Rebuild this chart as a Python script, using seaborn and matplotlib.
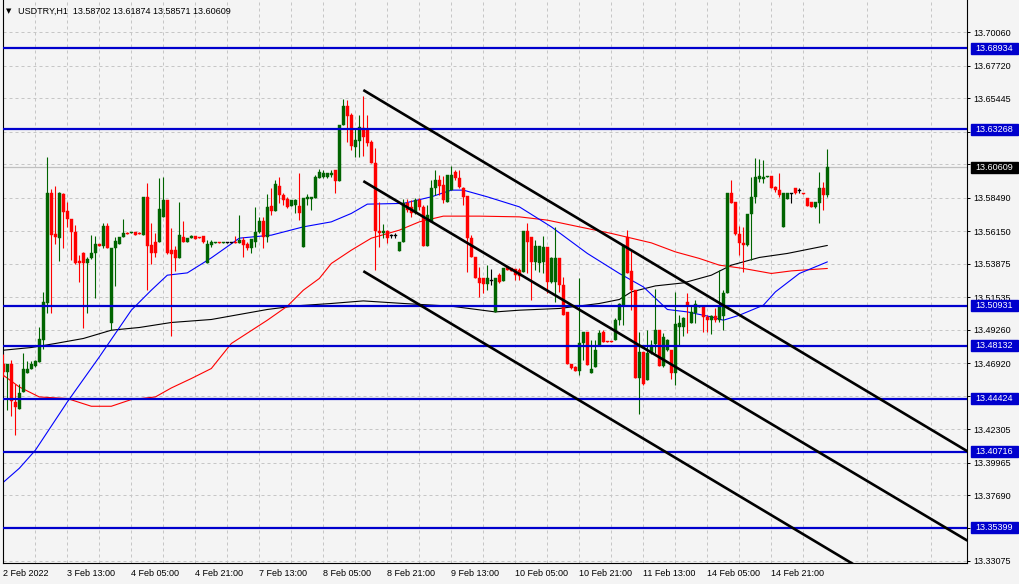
"""
USDTRY H1 candlestick chart (MetaTrader style) with three moving averages,
horizontal support/resistance levels and a descending channel.
"""

import matplotlib
matplotlib.use("Agg")
import matplotlib.pyplot as plt
import matplotlib.transforms as mtransforms
from matplotlib.patches import Rectangle
import numpy as np
import pandas as pd
import seaborn as sns

# ---------------------------------------------------------------- data
SYMBOL = "USDTRY,H1"

opens = [
    13.4689, 13.4630, 13.4684, 13.4420, 13.4371, 13.4490, 13.4623, 13.4649, 13.4672, 13.4700,  # 0
    13.4857, 13.5109, 13.5883, 13.5594, 13.5566, 13.5874, 13.5755, 13.5697, 13.5610, 13.5405,  # 10
    13.5459, 13.5389, 13.5424, 13.5459, 13.5522, 13.5510, 13.5650, 13.4969, 13.5498, 13.5522,  # 20
    13.5571, 13.5603, 13.5599, 13.5608, 13.5601, 13.5587, 13.5855, 13.5517, 13.5540, 13.5540,  # 30
    13.5715, 13.5832, 13.5482, 13.5482, 13.5424, 13.5571, 13.5540, 13.5564, 13.5580, 13.5571,  # 40
    13.5580, 13.5393, 13.5517, 13.5529, 13.5540, 13.5533, 13.5538, 13.5538, 13.5540, 13.5533,  # 50
    13.5552, 13.5524, 13.5494, 13.5540, 13.5610, 13.5687, 13.5575, 13.5790, 13.5757, 13.5932,  # 60
    13.5867, 13.5839, 13.5790, 13.5797, 13.5790, 13.5505, 13.5837, 13.5837, 13.5844, 13.5984,  # 70
    13.5991, 13.5995, 13.6007, 13.6042, 13.5967, 13.6357, 13.6490, 13.6427, 13.6205, 13.6247,  # 80
    13.6334, 13.6327, 13.6240, 13.6093, 13.5615, 13.5603, 13.5615, 13.5582, 13.5582, 13.5477,  # 90
    13.5540, 13.5809, 13.5785, 13.5739, 13.5832, 13.5785, 13.5510, 13.5680, 13.5914, 13.5972,  # 100
    13.5937, 13.5820, 13.5902, 13.6030, 13.5984, 13.5918, 13.5860, 13.5564, 13.5435, 13.5284,  # 110
    13.5284, 13.5244, 13.5272, 13.5050, 13.5307, 13.5267, 13.5361, 13.5354, 13.5349, 13.5342,  # 120
    13.5330, 13.5617, 13.5571, 13.5400, 13.5389, 13.5400, 13.5501, 13.5260, 13.5260, 13.5424,  # 130
    13.5237, 13.5050, 13.4684, 13.4665, 13.4637, 13.4833, 13.4910, 13.4623, 13.4665, 13.4812,  # 140
    13.4910, 13.4847, 13.4847, 13.4852, 13.4992, 13.5097, 13.5575, 13.5335, 13.5202, 13.4591,  # 150
    13.4770, 13.4577, 13.4763, 13.4824, 13.4922, 13.4675, 13.4782, 13.4787, 13.4626, 13.4941,  # 160
    13.4945, 13.5116, 13.4969, 13.5039, 13.5088, 13.5092, 13.5015, 13.4992, 13.5022, 13.4992,  # 170
    13.5022, 13.5179, 13.5879, 13.5820, 13.5592, 13.5529, 13.5517, 13.5734, 13.5855, 13.5977,  # 180
    13.5977, 13.5995, 13.6000, 13.5925, 13.5902, 13.5641, 13.5837, 13.5879, 13.5914, 13.5902,  # 190
    13.5883, 13.5844, 13.5820, 13.5785, 13.5809, 13.5914, 13.58702,                            # 200
]

highs = [
    13.4759, 13.4684, 13.4712, 13.4549, 13.4549, 13.4766, 13.4705, 13.4705, 13.4712, 13.4945,
    13.5190, 13.6135, 13.5907, 13.5930, 13.5890, 13.5879, 13.5820, 13.5697, 13.5657, 13.5447,
    13.5468, 13.5431, 13.5587, 13.5580, 13.5524, 13.5669, 13.5673, 13.5498, 13.5571, 13.5571,
    13.5699, 13.5608, 13.5610, 13.5608, 13.5608, 13.5855, 13.5953, 13.5673, 13.5599, 13.5988,
    13.5995, 13.5832, 13.5634, 13.5510, 13.5816, 13.5685, 13.5564, 13.5587, 13.5580, 13.5571,
    13.5580, 13.5552, 13.5552, 13.5540, 13.5540, 13.5540, 13.5541, 13.5541, 13.5582, 13.5727,
    13.5575, 13.5540, 13.5557, 13.5785, 13.5715, 13.5715, 13.5872, 13.5918, 13.5972, 13.5995,
    13.5879, 13.5855, 13.5832, 13.5837, 13.6019, 13.5844, 13.5874, 13.5855, 13.6007, 13.6049,
    13.6042, 13.6024, 13.6042, 13.6042, 13.6357, 13.6537, 13.6532, 13.6439, 13.6327, 13.6427,
    13.6560, 13.6427, 13.6252, 13.6194, 13.5820, 13.5662, 13.5622, 13.5594, 13.5599, 13.5540,
    13.5837, 13.5837, 13.5832, 13.5844, 13.5844, 13.5797, 13.5797, 13.5972, 13.6042, 13.6007,
    13.6000, 13.6007, 13.6070, 13.6042, 13.6042, 13.5925, 13.5860, 13.5587, 13.5435, 13.5365,
    13.5284, 13.5377, 13.5347, 13.5284, 13.5319, 13.5354, 13.5365, 13.5354, 13.5349, 13.5354,
    13.5617, 13.5669, 13.5571, 13.5552, 13.5510, 13.5580, 13.5501, 13.5435, 13.5645, 13.5424,
    13.5291, 13.5050, 13.4684, 13.4670, 13.5284, 13.4910, 13.4910, 13.4852, 13.4852, 13.4922,
    13.4922, 13.4847, 13.4847, 13.5006, 13.5109, 13.5517, 13.5622, 13.5477, 13.5202, 13.4910,
    13.4770, 13.4922, 13.4852, 13.5207, 13.4922, 13.4899, 13.4864, 13.4787, 13.5186, 13.5027,
    13.5015, 13.5179, 13.5097, 13.5132, 13.5097, 13.5092, 13.5027, 13.5027, 13.5074, 13.5342,
    13.5202, 13.5879, 13.5972, 13.5820, 13.5650, 13.5645, 13.5734, 13.5991, 13.6124, 13.6117,
    13.6112, 13.6003, 13.6000, 13.5930, 13.6023, 13.5883, 13.5883, 13.5879, 13.5918, 13.5914,
    13.5883, 13.5844, 13.5820, 13.5820, 13.6030, 13.5960, 13.61874,
]

lows = [
    13.4595, 13.4362, 13.4322, 13.4192, 13.4371, 13.4490, 13.4623, 13.4649, 13.4665, 13.4700,
    13.4789, 13.5043, 13.5043, 13.5524, 13.5407, 13.5498, 13.5641, 13.5412, 13.5382, 13.5260,
    13.4938, 13.5039, 13.5419, 13.5144, 13.5510, 13.5494, 13.5498, 13.4922, 13.5230, 13.5522,
    13.5571, 13.5594, 13.5599, 13.5587, 13.5594, 13.5587, 13.5202, 13.5382, 13.5435, 13.5540,
    13.5715, 13.5452, 13.4882, 13.5337, 13.5424, 13.5540, 13.5540, 13.5564, 13.5557, 13.5566,
    13.5529, 13.5393, 13.5505, 13.5529, 13.5533, 13.5533, 13.5531, 13.5531, 13.5529, 13.5533,
    13.5435, 13.5482, 13.5463, 13.5505, 13.5603, 13.5498, 13.5540, 13.5727, 13.5757, 13.5813,
    13.5797, 13.5774, 13.5790, 13.5743, 13.5692, 13.5505, 13.5797, 13.5762, 13.5844, 13.5984,
    13.5984, 13.5988, 13.5995, 13.5883, 13.5967, 13.6357, 13.6240, 13.6182, 13.6135, 13.6135,
    13.6140, 13.6210, 13.6089, 13.5342, 13.5505, 13.5564, 13.5533, 13.5564, 13.5564, 13.5477,
    13.5540, 13.5750, 13.5715, 13.5734, 13.5762, 13.5510, 13.5510, 13.5680, 13.5867, 13.5867,
    13.5809, 13.5820, 13.5902, 13.5972, 13.5914, 13.5797, 13.5330, 13.5435, 13.5284, 13.5155,
    13.5179, 13.5202, 13.5237, 13.5050, 13.5249, 13.5267, 13.5342, 13.5337, 13.5272, 13.5272,
    13.5330, 13.5323, 13.5132, 13.5342, 13.5330, 13.5319, 13.5179, 13.5249, 13.5120, 13.5190,
    13.5027, 13.4684, 13.4654, 13.4637, 13.4607, 13.4712, 13.4677, 13.4623, 13.4665, 13.4812,
    13.4840, 13.4840, 13.4840, 13.4852, 13.4957, 13.4957, 13.5319, 13.5062, 13.4591, 13.4334,
    13.4537, 13.4577, 13.4759, 13.4761, 13.4670, 13.4665, 13.4777, 13.4584, 13.4537, 13.4817,
    13.4880, 13.4899, 13.4969, 13.4969, 13.5085, 13.4906, 13.4910, 13.4894, 13.4980, 13.4980,
    13.4922, 13.5179, 13.5809, 13.5587, 13.5447, 13.5330, 13.5510, 13.5412, 13.5809, 13.5960,
    13.5953, 13.5993, 13.5914, 13.5890, 13.5855, 13.5641, 13.5837, 13.5813, 13.5874, 13.5879,
    13.5874, 13.5790, 13.5785, 13.5774, 13.5669, 13.5762, 13.58571,
]

closes = [
    13.4630, 13.4684, 13.4427, 13.4385, 13.4486, 13.4654, 13.4654, 13.4686, 13.4705, 13.4859,
    13.5118, 13.5883, 13.5587, 13.5571, 13.5883, 13.5750, 13.5697, 13.5610, 13.5389, 13.5393,
    13.5389, 13.5419, 13.5459, 13.5522, 13.5510, 13.5650, 13.5498, 13.5498, 13.5545, 13.5571,
    13.5599, 13.5599, 13.5608, 13.5587, 13.5597, 13.5855, 13.5512, 13.5463, 13.5463, 13.5767,
    13.5832, 13.5463, 13.5454, 13.5424, 13.5587, 13.5540, 13.5564, 13.5580, 13.5557, 13.5566,
    13.5540, 13.5522, 13.5540, 13.5540, 13.5533, 13.5540, 13.5538, 13.5538, 13.5533, 13.5552,
    13.5517, 13.5494, 13.5557, 13.5610, 13.5687, 13.5575, 13.5781, 13.5757, 13.5944, 13.5867,
    13.5832, 13.5785, 13.5832, 13.5832, 13.5739, 13.5844, 13.5851, 13.5851, 13.5991, 13.6030,
    13.6019, 13.6019, 13.6019, 13.5967, 13.6357, 13.6490, 13.6420, 13.6210, 13.6252, 13.6341,
    13.6275, 13.6233, 13.6089, 13.5615, 13.5603, 13.5615, 13.5564, 13.5582, 13.5582, 13.5540,
    13.5809, 13.5762, 13.5739, 13.5832, 13.5785, 13.5510, 13.5727, 13.5914, 13.5972, 13.5930,
    13.5832, 13.6007, 13.6007, 13.5984, 13.5921, 13.5855, 13.5564, 13.5435, 13.5284, 13.5249,
    13.5244, 13.5284, 13.5272, 13.5284, 13.5260, 13.5354, 13.5342, 13.5337, 13.5307, 13.5300,
    13.5617, 13.5540, 13.5400, 13.5510, 13.5510, 13.5501, 13.5260, 13.5424, 13.5424, 13.5237,
    13.5027, 13.4684, 13.4661, 13.4637, 13.4833, 13.4910, 13.4677, 13.4654, 13.4782, 13.4899,
    13.4840, 13.4840, 13.4840, 13.4992, 13.5104, 13.5517, 13.5319, 13.5202, 13.4591, 13.4770,
    13.4549, 13.4763, 13.4817, 13.4922, 13.4672, 13.4875, 13.4857, 13.4626, 13.4964, 13.4969,
    13.5004, 13.5097, 13.5050, 13.5104, 13.5092, 13.5015, 13.4992, 13.5022, 13.4992, 13.5085,
    13.5179, 13.5879, 13.5809, 13.5592, 13.5529, 13.5517, 13.5734, 13.5851, 13.5991, 13.6000,
    13.5995, 13.6000, 13.5914, 13.5902, 13.5867, 13.5883, 13.5883, 13.5879, 13.5879, 13.5902,
    13.5874, 13.5790, 13.5785, 13.5820, 13.5914, 13.5867, 13.60609,
]

TIME_LABELS = ["2 Feb 2022", "3 Feb 13:00", "4 Feb 05:00", "4 Feb 21:00", "7 Feb 13:00",
               "8 Feb 05:00", "8 Feb 21:00", "9 Feb 13:00", "10 Feb 05:00", "10 Feb 21:00",
               "11 Feb 13:00", "14 Feb 05:00", "14 Feb 21:00"]

PRICE_TICKS = [13.70060, 13.67720, 13.65445, 13.63105, 13.60830, 13.58490, 13.56150,
               13.53875, 13.51535, 13.49260, 13.46920, 13.44645, 13.42305, 13.39965,
               13.37690, 13.35350, 13.33075]
# tick labels that sit under a price box on the right axis
HIDDEN_TICKS = [13.63105, 13.60830, 13.44645, 13.35350]

LEVELS = [13.68934, 13.63268, 13.50931, 13.48132, 13.44424, 13.40716, 13.35399]

MA_BLUE_BARS = [0, 4, 8, 16, 24, 32, 37, 41, 46, 52, 59, 67, 75, 82, 87, 91, 100, 107,
                112, 115, 121, 129, 137, 146, 154, 160, 166, 171, 177, 180, 184, 190, 193,
                199, 206]
MA_BLUE = [13.3858, 13.3956, 13.4082, 13.4420, 13.4735, 13.5062, 13.5202, 13.5307, 13.5323,
           13.5428, 13.5566, 13.5587, 13.5645, 13.5680, 13.5739, 13.5804, 13.5809, 13.5855,
           13.5902, 13.5902, 13.5855, 13.5785, 13.5645, 13.5459, 13.5319, 13.5225, 13.5067,
           13.5050, 13.5015, 13.4992, 13.5027, 13.5097, 13.5190, 13.5319, 13.5400]

MA_RED_BARS = [0, 4, 9, 16, 22, 27, 32, 38, 42, 47, 52, 57, 66, 71, 75, 79, 82, 87, 92, 99,
               104, 110, 119, 129, 136, 144, 152, 162, 168, 174, 179, 185, 192, 197, 206]
MA_RED = [13.4607, 13.4525, 13.4455, 13.4444, 13.4390, 13.4390, 13.4437, 13.4455, 13.4518,
          13.4584, 13.4654, 13.4829, 13.4992, 13.5090, 13.5202, 13.5284, 13.5389, 13.5482,
          13.5566, 13.5622, 13.5680, 13.5720, 13.5720, 13.5715, 13.5692, 13.5645, 13.5599,
          13.5533, 13.5470, 13.5424, 13.5377, 13.5354, 13.5319, 13.5337, 13.5354]

MA_BLACK_BARS = [0, 7, 13, 20, 27, 34, 42, 52, 57, 66, 73, 82, 90, 100, 112, 123, 129, 139,
                 149, 154, 157, 163, 170, 177, 182, 189, 196, 206]
MA_BLACK = [13.4782, 13.4801, 13.4829, 13.4864, 13.4922, 13.4941, 13.4976, 13.4997, 13.5022,
            13.5067, 13.5092, 13.5109, 13.5127, 13.5109, 13.5090, 13.5050, 13.5062, 13.5074,
            13.5109, 13.5137, 13.5190, 13.5232, 13.5253, 13.5307, 13.5377, 13.5431, 13.5459,
            13.5515]

# descending channel: anchor bars and prices of the three parallel lines
CHANNEL_BARS = [90, 241]
CHANNEL_UPPER = [13.6602, 13.4075]
CHANNEL_MIDDLE = [13.5965, 13.3450]
CHANNEL_LOWER = [13.5335, 13.2808]

# ---------------------------------------------------------------- style
BG = "#F4F4F4"
GRID = "#C6C6C6"
BULL = "#006400"
BEAR = "#FF0000"
LEVEL_BLUE = "#0000CD"
FS = 6.5

sns.set_theme(style="white", rc={"axes.facecolor": BG, "figure.facecolor": BG})
plt.rcParams["font.family"] = ["Liberation Sans", "DejaVu Sans"]


def main():
    df = pd.DataFrame({"open": opens, "high": highs, "low": lows, "close": closes})
    df["bar"] = np.arange(len(df))
    df["color"] = np.where(df["close"] > df["open"], BULL,
                           np.where(df["close"] < df["open"], BEAR, "black"))
    body_h = (df["close"] - df["open"]).abs().clip(lower=0.0007)
    body_bottom = df[["open", "close"]].min(axis=1)
    body_bottom = np.where((df["close"] - df["open"]).abs() < 0.0007,
                           (df["open"] + df["close"]) / 2 - 0.00035, body_bottom)

    fig = plt.figure(figsize=(10.2, 5.84), dpi=100)
    ax = fig.add_axes([3 / 1020, 21 / 584, 964 / 1020, 563 / 584])
    ax.set_xlim(-0.075, 240.9)
    ax.set_ylim(13.32935, 13.72320)

    # grid
    ax.set_xticks(np.arange(0, 16 * len(TIME_LABELS), 16))
    ax.set_xticklabels(TIME_LABELS, ha="left")
    ax.set_xticks(np.arange(8, 241, 16), minor=True)
    ax.set_yticks(PRICE_TICKS)
    ax.set_yticklabels(["" if p in HIDDEN_TICKS else f"{p:.5f}" for p in PRICE_TICKS])
    ax.grid(True, which="both", axis="x", color=GRID, lw=0.72, ls=(0, (3, 3)), zorder=0)
    ax.grid(True, which="major", axis="y", color=GRID, lw=0.72, ls=(0, (3, 3)), zorder=0)
    ax.set_axisbelow(True)

    ax.yaxis.tick_right()
    ax.tick_params(axis="y", direction="out", length=2.5, width=0.72, pad=1.8,
                   labelsize=FS, colors="black")
    ax.tick_params(axis="x", which="major", direction="out", length=2.5, width=0.72,
                   pad=1.5, labelsize=FS, colors="black")
    ax.tick_params(axis="x", which="minor", length=0)
    for side in ("left", "bottom", "right"):
        ax.spines[side].set_color("black")
        ax.spines[side].set_linewidth(0.8)
    ax.spines["top"].set_visible(False)

    # last price line
    ax.axhline(closes[-1], color="#C0C0C0", lw=0.9, zorder=1)

    # moving averages
    sns.lineplot(x=MA_BLACK_BARS, y=MA_BLACK, color="black", linewidth=0.8, ax=ax, zorder=2)
    sns.lineplot(x=MA_RED_BARS, y=MA_RED, color="#FF0000", linewidth=0.8, ax=ax, zorder=2)
    sns.lineplot(x=MA_BLUE_BARS, y=MA_BLUE, color="#0000FF", linewidth=0.8, ax=ax, zorder=2)

    # candles
    ax.vlines(df["bar"], df["low"], df["high"], colors=df["color"], lw=0.8, zorder=3)
    ax.bar(df["bar"], body_h, bottom=body_bottom, width=0.75, color=df["color"],
           edgecolor=df["color"], linewidth=0.3, zorder=3)

    # horizontal levels
    for lvl in LEVELS:
        ax.axhline(lvl, color=LEVEL_BLUE, lw=1.6, zorder=4)

    # channel
    for line in (CHANNEL_UPPER, CHANNEL_MIDDLE, CHANNEL_LOWER):
        ax.plot(CHANNEL_BARS, line, color="black", lw=1.9, zorder=4,
                solid_capstyle="butt")

    # price labels on the right axis
    trans = mtransforms.blended_transform_factory(ax.transAxes, ax.transData)
    half_h = 0.0039
    for val, fc in [(v, LEVEL_BLUE) for v in LEVELS] + [(closes[-1], "black")]:
        ax.add_patch(Rectangle((1.0042, val - half_h), 0.0488, 2 * half_h, transform=trans,
                               facecolor=fc, edgecolor=fc, clip_on=False, zorder=10))
        ax.text(1.0286, val, f"{val:.5f}", transform=trans, ha="center", va="center",
                color="white", fontsize=FS, clip_on=False, zorder=11)

    # header
    fig.text(9 / 1020, 1 - 11 / 584, "\u25bc", ha="center", va="center", fontsize=5,
             color="black", family=["DejaVu Sans"])
    fig.text(18 / 1020, 1 - 11 / 584,
             f"{SYMBOL}  {opens[-1]:.5f} {highs[-1]:.5f} {lows[-1]:.5f} {closes[-1]:.5f}",
             ha="left", va="center", fontsize=FS, color="black")

    fig.savefig("out.png", dpi=100, facecolor=BG)
    plt.close(fig)


if __name__ == "__main__":
    main()
